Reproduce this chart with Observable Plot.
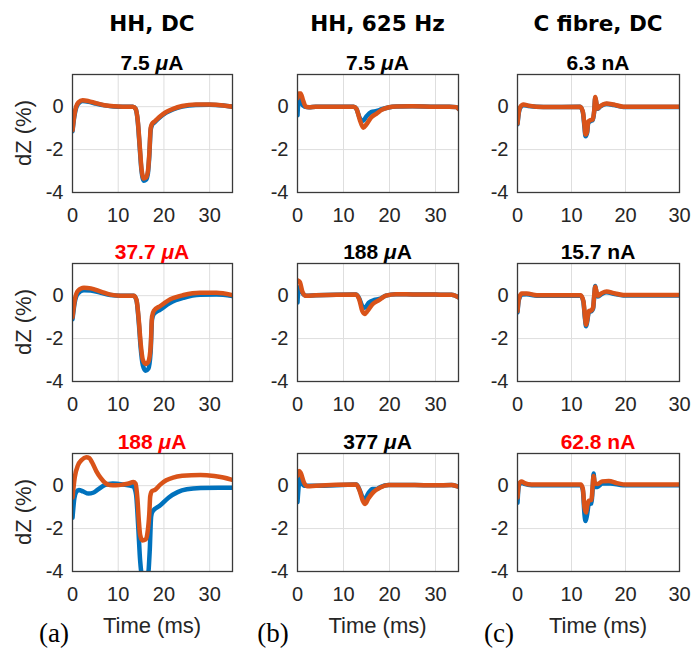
<!DOCTYPE html>
<html>
<head>
<meta charset="utf-8">
<script src="https://cdn.jsdelivr.net/npm/d3@7"></script>
<script src="https://cdn.jsdelivr.net/npm/@observablehq/plot@0.6"></script>
<style>
  body { margin: 0; background: #fff; }
  #fig { position: relative; width: 691px; height: 649px; overflow: hidden; background: #fff; }
  #fig svg { position: absolute; }
</style>
</head>
<body>
<div id="fig"></div>
<script>
// Impedance change dZ (%) against time (ms); blue and orange traces per panel.
const columnTitles = ["HH, DC", "HH, 625 Hz", "C fibre, DC"];
const panelLabels = ["(a)", "(b)", "(c)"];
const amplitudes = [["7.5", "37.7", "188"], ["7.5", "188", "377"], ["6.3", "15.7", "62.8"]];
const units = ["μA", "μA", "nA"];
const highlighted = [[false, true, true], [false, false, false], [false, false, true]];
const timeMax = [35, 35, 30];
const timeTicks = [0, 10, 20, 30];
const dzTicks = [-4, -2, 0];

// HH, DC
const hhDc1Blue = [[0,-1.15],[0.4,-0.45],[0.8,-0.05],[1.3,0.15],[2.2,0.26],[3.5,0.23],[5,0.15],[7,0.06],[9,0.01],[11,0],[13.2,0],[13.8,-0.1],[14.3,-0.75],[14.7,-1.9],[15.1,-3.0],[15.6,-3.45],[16.1,-3.4],[16.5,-3.1],[16.8,-2.3],[17.1,-1.1],[17.4,-0.85],[18,-0.72],[19,-0.52],[20.5,-0.28],[22,-0.13],[24,0.0],[27,0.08],[30,0.09],[33,0.05],[35,0.0]];
const hhDc1Orange = [[0,-1.1],[0.4,-0.4],[0.8,0.0],[1.3,0.2],[2.2,0.3],[3.5,0.26],[5,0.17],[7,0.07],[9,0.02],[11,0],[13.2,0],[13.8,-0.1],[14.3,-0.7],[14.7,-1.8],[15.1,-2.9],[15.6,-3.35],[16.1,-3.3],[16.5,-3.0],[16.8,-2.2],[17.1,-1.0],[17.4,-0.8],[18,-0.68],[19,-0.48],[20.5,-0.25],[22,-0.1],[24,0.03],[27,0.1],[30,0.1],[33,0.06],[35,0.0]];
const hhDc2Blue = [[0,-1.1],[0.5,-0.3],[1.2,0.1],[2.5,0.25],[4,0.24],[6.2,0.13],[8.3,0.03],[10.5,0],[13.4,0],[14,-0.22],[14.5,-1.25],[14.9,-2.4],[15.4,-3.25],[16,-3.5],[16.6,-3.4],[17.1,-2.6],[17.4,-1.1],[17.8,-0.85],[19.2,-0.65],[21.4,-0.33],[24.3,-0.1],[27.9,0.04],[31.5,0.05],[35,-0.02]];
const hhDc2Orange = [[0,-1.0],[0.5,-0.2],[1.2,0.23],[2.5,0.37],[4,0.34],[6.2,0.19],[8.3,0.05],[10.5,0],[13.4,0],[14,-0.2],[14.5,-1.13],[14.9,-2.2],[15.4,-3.0],[16,-3.18],[16.6,-3.07],[17.1,-2.37],[17.4,-0.98],[17.8,-0.7],[19.2,-0.48],[21.4,-0.17],[24.3,0.03],[27.9,0.14],[31.5,0.14],[35,0.03]];
const hhDc3Blue = [[0,-1.5],[0.4,-0.6],[0.8,-0.3],[1.4,-0.2],[2.3,-0.27],[3.5,-0.37],[4.5,-0.33],[5.6,-0.17],[7,0.02],[8.8,0.1],[11,0.06],[13.3,-0.03],[13.9,-0.4],[14.4,-2.0],[14.8,-3.5],[15.2,-4.15],[16.5,-4.15],[16.9,-3.0],[17.2,-1.45],[17.5,-1.2],[19,-0.95],[21,-0.56],[23,-0.3],[25,-0.17],[28,-0.11],[32,-0.1],[35,-0.1]];
const hhDc3Orange = [[0,-0.55],[0.5,0.4],[1.2,0.95],[2,1.2],[3,1.33],[3.7,1.28],[4.3,1.08],[5.2,0.68],[6.2,0.35],[7.2,0.12],[8.2,0.03],[9.5,0.02],[11,0.05],[12.3,0.1],[13.3,0.17],[13.8,0.1],[14.2,-0.6],[14.5,-1.6],[14.8,-2.3],[15.3,-2.55],[16.0,-2.5],[16.4,-2.2],[16.8,-1.3],[17.0,-0.5],[17.4,-0.25],[18,-0.2],[19.2,0.05],[20.5,0.25],[22,0.38],[24,0.46],[28,0.5],[31,0.45],[33,0.38],[35,0.27]];

// HH, 625 Hz
const hh625a1Blue = [[0,-0.4],[0.2,0.25],[0.5,0.45],[0.9,0.15],[1.5,0],[2.5,-0.03],[4,0],[12.2,0],[12.8,-0.1],[13.6,-0.55],[14.3,-0.65],[15,-0.45],[16,-0.25],[17.2,-0.2],[18.3,-0.12],[19.7,-0.04],[21.5,0.01],[25,0.02],[30,0],[33,0],[34.5,-0.02],[35,-0.1]];
const hh625a1Orange = [[0,0.4],[0.3,0.62],[0.7,0.62],[1.2,0.3],[1.8,0.0],[2.5,-0.03],[4,0],[12.2,0],[12.8,-0.1],[13.6,-0.65],[14.3,-0.98],[15,-0.82],[16,-0.5],[17.2,-0.32],[18.3,-0.15],[19.7,-0.04],[21.5,0.01],[25,0.02],[30,0.0],[33,0],[34.5,-0.02],[35,-0.1]];
const hh625a2Blue = [[0,-0.32],[0.2,0.32],[0.5,0.4],[1.0,0.15],[1.8,0],[4,0.02],[12.7,0.05],[13.4,-0.12],[14.0,-0.45],[14.4,-0.56],[14.9,-0.52],[15.5,-0.32],[16.7,-0.2],[17.8,-0.15],[19.2,0],[21.4,0.07],[25,0.06],[30,0.05],[33.5,0.04],[35,-0.08]];
const hh625a2Orange = [[0,0.72],[0.5,0.64],[1.1,0.16],[1.8,0],[4,0.02],[12.7,0.06],[13.4,-0.16],[14.1,-0.72],[14.6,-0.85],[15.2,-0.72],[16.3,-0.4],[17.8,-0.2],[19.2,0],[21.4,0.07],[25,0.06],[30,0.05],[33.5,0.04],[35,-0.08]];
const hh625a3Blue = [[0,-0.77],[0.3,0.08],[0.5,0.38],[0.9,0.15],[1.5,0],[4,0],[12.8,0.05],[13.5,-0.2],[14.2,-0.55],[14.7,-0.6],[15.4,-0.35],[16.3,-0.15],[17.2,-0.15],[18,-0.06],[19.8,0.03],[25,0.03],[30,0.02],[33.5,0.03],[35,-0.05]];
const hh625a3Orange = [[0,0.46],[0.35,0.69],[0.7,0.6],[1.4,0.15],[2.2,-0.03],[4,0],[12.8,0.06],[13.5,-0.23],[14.2,-0.7],[14.7,-0.85],[15.4,-0.6],[16.5,-0.3],[18,-0.08],[19.8,0.03],[25,0.03],[30,0.02],[33.5,0.03],[35,-0.05]];

// C fibre, DC
const cDc1Blue = [[0,-0.82],[0.25,-0.28],[0.5,-0.05],[1.1,0.07],[2,0.03],[4.8,-0.02],[11.6,0],[12.1,-0.25],[12.4,-0.95],[12.6,-1.38],[12.9,-1.2],[13.1,-0.75],[13.6,-0.66],[13.9,-0.63],[14.2,-0.22],[14.4,0.42],[14.6,0.15],[14.8,-0.1],[15.3,0.0],[16.5,0.12],[17.8,0.08],[19.6,-0.01],[25,-0.01],[30,-0.01]];
const cDc1Orange = [[0,-0.78],[0.25,-0.23],[0.5,-0.02],[1.1,0.1],[2,0.05],[4.8,-0.02],[11.6,0],[12.1,-0.23],[12.4,-0.86],[12.6,-1.3],[12.9,-1.15],[13.1,-0.7],[13.6,-0.62],[13.9,-0.6],[14.2,-0.2],[14.4,0.45],[14.6,0.2],[14.8,-0.08],[15.3,0.02],[16.5,0.15],[17.8,0.1],[19.6,0],[25,0],[30,0]];
const cDc2Blue = [[0,-0.78],[0.25,-0.2],[0.8,0.06],[1.7,0.07],[3.6,0],[11.7,0],[12.2,-0.28],[12.5,-1.08],[12.7,-1.42],[12.9,-1.22],[13.2,-0.77],[13.7,-0.72],[14,-0.6],[14.2,-0.05],[14.4,0.45],[14.6,0.15],[14.9,-0.04],[15.6,0.08],[16.5,0.16],[17.8,0.09],[19.6,0.01],[25,0.01],[30,0.01]];
const cDc2Orange = [[0,-0.72],[0.25,-0.15],[0.8,0.1],[1.7,0.1],[3.6,0.02],[11.7,0.02],[12.2,-0.25],[12.5,-1.0],[12.7,-1.35],[12.9,-1.15],[13.2,-0.72],[13.7,-0.68],[14,-0.55],[14.2,0],[14.4,0.42],[14.6,0.22],[14.9,0],[15.6,0.12],[16.5,0.2],[17.8,0.12],[19.6,0.03],[25,0.03],[30,0.03]];
const cDc3Blue = [[0,-0.8],[0.25,0.0],[0.73,0.15],[1.3,0.08],[2.6,0.02],[11.7,0.02],[12.1,-0.2],[12.4,-1.33],[12.6,-1.65],[12.9,-1.33],[13.2,-0.86],[13.7,-0.83],[13.9,-0.22],[14.1,0.57],[14.3,-0.06],[14.8,-0.06],[15.7,0.1],[17.2,0.1],[19.6,0.02],[25,0.02],[30,0.02]];
const cDc3Orange = [[0,-0.55],[0.25,0.05],[0.73,0.2],[1.3,0.12],[2.6,0.05],[11.7,0.05],[12.1,-0.15],[12.4,-1.0],[12.7,-1.25],[12.9,-0.95],[13.2,-0.7],[13.7,-0.67],[13.9,-0.06],[14.1,0.45],[14.3,0.15],[14.8,0.08],[15.7,0.2],[16.9,0.22],[18.4,0.12],[20.2,0.05],[25,0.05],[30,0.05]];

const traces = [
  [[hhDc1Blue, hhDc1Orange], [hhDc2Blue, hhDc2Orange], [hhDc3Blue, hhDc3Orange]],
  [[hh625a1Blue, hh625a1Orange], [hh625a2Blue, hh625a2Orange], [hh625a3Blue, hh625a3Orange]],
  [[cDc1Blue, cDc1Orange], [cDc2Blue, cDc2Orange], [cDc3Blue, cDc3Orange]]
];

// Layout of the 3×3 grid of axes (pixels)
const colX = [72, 297, 517];
const colW = [160, 161, 162];
const rowY = [74, 263, 453];
const axH = 118;
const M = {left: 55, right: 10, top: 5, bottom: 36};
const blue = "#0072BD", orange = "#D95319";
const grid = "#dedede", axisInk = "#262626";

const fig = document.getElementById("fig");

for (let c = 0; c < 3; c++) {
  for (let r = 0; r < 3; r++) {
    const [b, o] = traces[c][r];
    const gridTimes = timeTicks.filter(t => t > 0 && t < timeMax[c]);
    const svg = Plot.plot({
      width: M.left + colW[c] + M.right,
      height: M.top + axH + M.bottom,
      marginLeft: M.left, marginRight: M.right, marginTop: M.top, marginBottom: M.bottom,
      style: {background: "transparent", overflow: "visible", color: axisInk,
              fontFamily: "'Liberation Sans', Arial, sans-serif", fontSize: "20px"},
      x: {domain: [0, timeMax[c]], ticks: timeTicks, label: null, tickSize: 0, tickPadding: 15},
      y: {domain: [-4, 1.5], ticks: dzTicks, label: null, tickSize: 0, tickPadding: 9, tickFormat: d => String(d)},
      marks: [
        Plot.ruleX(gridTimes, {stroke: grid, strokeWidth: 1}),
        Plot.ruleY([-2, 0], {stroke: grid, strokeWidth: 1}),
        Plot.line(b, {x: d => d[0], y: d => d[1], stroke: blue, strokeWidth: 4.5, curve: "monotone-x", clip: true}),
        Plot.line(o, {x: d => d[0], y: d => d[1], stroke: orange, strokeWidth: 4.5, curve: "monotone-x", clip: true}),
        Plot.frame({stroke: "#3a3a3a", strokeWidth: 1.3})
      ]
    });
    svg.style.left = (colX[c] - M.left) + "px";
    svg.style.top = (rowY[r] - M.top) + "px";
    fig.appendChild(svg);
  }
}

// Titles and labels drawn over the grid
const overlay = d3.select(fig).append("svg")
  .attr("width", 691).attr("height", 649)
  .style("left", "0px").style("top", "0px").style("pointer-events", "none");

for (let c = 0; c < 3; c++) {
  const cx = colX[c] + colW[c] / 2;
  overlay.append("text")
    .attr("x", cx).attr("y", 30.6).attr("text-anchor", "middle")
    .style("font-family", "'DejaVu Sans', sans-serif").style("font-weight", "bold").style("font-size", "21.5px")
    .attr("fill", "#000").text(columnTitles[c]);

  for (let r = 0; r < 3; r++) {
    const t = overlay.append("text")
      .attr("x", cx).attr("y", rowY[r] - 4.5).attr("text-anchor", "middle")
      .style("font-family", "'Liberation Sans', Arial, sans-serif").style("font-weight", "bold").style("font-size", "21px")
      .attr("fill", highlighted[c][r] ? "#ff0000" : "#000");
    t.append("tspan").text(amplitudes[c][r] + " ");
    const [prefix, base] = [units[c].slice(0, 1), units[c].slice(1)];
    t.append("tspan").style("font-style", prefix === "μ" ? "italic" : "normal").text(prefix);
    t.append("tspan").text(base);
  }

  overlay.append("text")
    .attr("x", cx).attr("y", 633).attr("text-anchor", "middle")
    .style("font-family", "'Liberation Sans', Arial, sans-serif").style("font-size", "22px")
    .attr("fill", axisInk).text("Time (ms)");
}

const labelX = [54, 273, 499];
panelLabels.forEach((lab, i) => {
  overlay.append("text")
    .attr("x", labelX[i]).attr("y", 642).attr("text-anchor", "middle")
    .style("font-family", "'Liberation Serif', 'Times New Roman', serif").style("font-size", "27px")
    .attr("fill", "#000").text(lab);
});

for (let r = 0; r < 3; r++) {
  overlay.append("text")
    .attr("transform", `translate(31,${rowY[r] + axH / 2}) rotate(-90)`)
    .attr("text-anchor", "middle")
    .style("font-family", "'Liberation Sans', Arial, sans-serif").style("font-size", "22px")
    .attr("fill", axisInk).text("dZ (%)");
}
</script>
</body>
</html>
